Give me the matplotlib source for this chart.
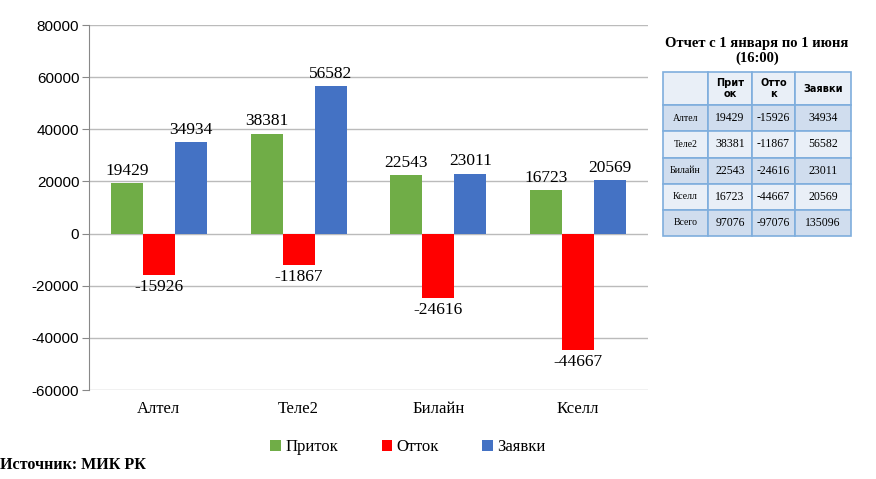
import matplotlib
matplotlib.use("Agg")
import matplotlib.pyplot as plt
import numpy as np

categories = ["Алтел", "Теле2", "Билайн", "Кселл"]
inflow = [19429, 38381, 22543, 16723]
outflow = [-15926, -11867, -24616, -44667]
requests = [34934, 56582, 23011, 20569]
series_names = ["Приток", "Отток", "Заявки"]
colors = ["#70AD47", "#FF0000", "#4472C4"]

table_title = "Отчет с 1 января по 1 июня\n(16:00)"
table_header = ["", "Прит\nок", "Отто\nк", "Заявки"]
table_rows = ["Алтел", "Теле2", "Билайн", "Кселл", "Всего"]
total_in = 97076
total_out = -97076
total_req = 135096

W, H = 876, 479
fig = plt.figure(figsize=(W / 100, H / 100), dpi=100)

serif = ["Liberation Serif", "DejaVu Serif"]
sans = ["Liberation Sans", "DejaVu Sans"]

# main axes
ax = fig.add_axes([89 / W, 1 - 390 / H, (648 - 89) / W, (390 - 25) / H])
x = np.arange(len(categories))
bw = 0.229
for i, (vals, name, c) in enumerate(zip([inflow, outflow, requests], series_names, colors)):
    pos = x + (i - 1) * bw
    bars = ax.bar(pos, vals, bw, color=c, label=name, zorder=3)
    for b, v in zip(bars, vals):
        if v >= 0:
            ax.annotate(str(v), (b.get_x() + b.get_width() / 2, v), xytext=(0, 3),
                        textcoords="offset points", ha="center", va="bottom",
                        fontsize=12.5, family=serif)
        else:
            ax.annotate(str(v), (b.get_x() + b.get_width() / 2, v), xytext=(0, -3),
                        textcoords="offset points", ha="center", va="top",
                        fontsize=12.5, family=serif)

ax.set_xlim(-0.5, len(categories) - 0.5)
ax.set_ylim(-60000, 80000)
ax.set_yticks(np.arange(-60000, 80001, 20000))
ax.set_yticklabels([str(v) for v in range(-60000, 80001, 20000)], family=sans, fontsize=11)
ax.set_xticks(x)
ax.set_xticklabels(categories, family=serif, fontsize=12)
ax.tick_params(axis="x", length=0, pad=8)
ax.tick_params(axis="y", length=5, color="#888888", pad=2, direction="out")
ax.grid(axis="y", color="#BBBBBB", linewidth=1, zorder=0)
for s in ["top", "right", "bottom"]:
    ax.spines[s].set_visible(False)
ax.spines["left"].set_color("#888888")

leg = fig.legend(loc="center", bbox_to_anchor=(408 / W, 1 - 447 / H), ncol=3, frameon=False,
                 prop={"family": serif, "size": 12}, handlelength=0.65, handleheight=0.65,
                 handletextpad=0.25, columnspacing=2.6)

fig.text(0, 1 - 465 / H, "Источник: МИК РК", family=serif, fontweight="bold", fontsize=11.5,
         ha="left", va="center")

# table
fig.text(757 / W, 1 - 51 / H, table_title, family=serif, fontweight="bold", fontsize=10.5,
         ha="center", va="center", linespacing=1.2)

tax = fig.add_axes([663 / W, 1 - 236 / H, (851 - 663) / W, (236 - 72) / H])
tax.axis("off")
cell_text = [table_header]
for name, a, b, c in zip(table_rows,
                         inflow + [total_in], outflow + [total_out], requests + [total_req]):
    cell_text.append([name, str(a), str(b), str(c)])
col_w = [45, 44, 43, 56]
col_w = [w / sum(col_w) for w in col_w]
row_h = [33, 26, 26, 26, 26, 26]
row_h = [h / sum(row_h) for h in row_h]
dark = "#D0DDEE"
light = "#E9EFF7"
tbl = tax.table(cellText=cell_text, colWidths=col_w, loc="center", bbox=[0, 0, 1, 1])
tbl.auto_set_font_size(False)
for (r, c), cell in tbl.get_celld().items():
    cell.set_edgecolor("#7FAEDD")
    cell.set_linewidth(1.2)
    if r == 0:
        cell.set_facecolor(light)
        cell.get_text().set_fontsize(7)
        cell.get_text().set_fontweight("bold")
        cell.get_text().set_family(["DejaVu Sans"])
        cell.get_text().set_linespacing(1.1)
    else:
        cell.set_facecolor(dark if r % 2 == 1 else light)
        cell.get_text().set_family(serif)
        cell.get_text().set_fontsize(7 if c == 0 else 8.5)
    cell.set_text_props(ha="center")
    cell._loc = "center"
y = 1.0
for r in range(len(row_h)):
    y -= row_h[r]
    for c in range(4):
        cell = tbl[r, c]
        cell.set_y(y)
        cell.set_height(row_h[r])

fig.savefig("out.png", dpi=100)
